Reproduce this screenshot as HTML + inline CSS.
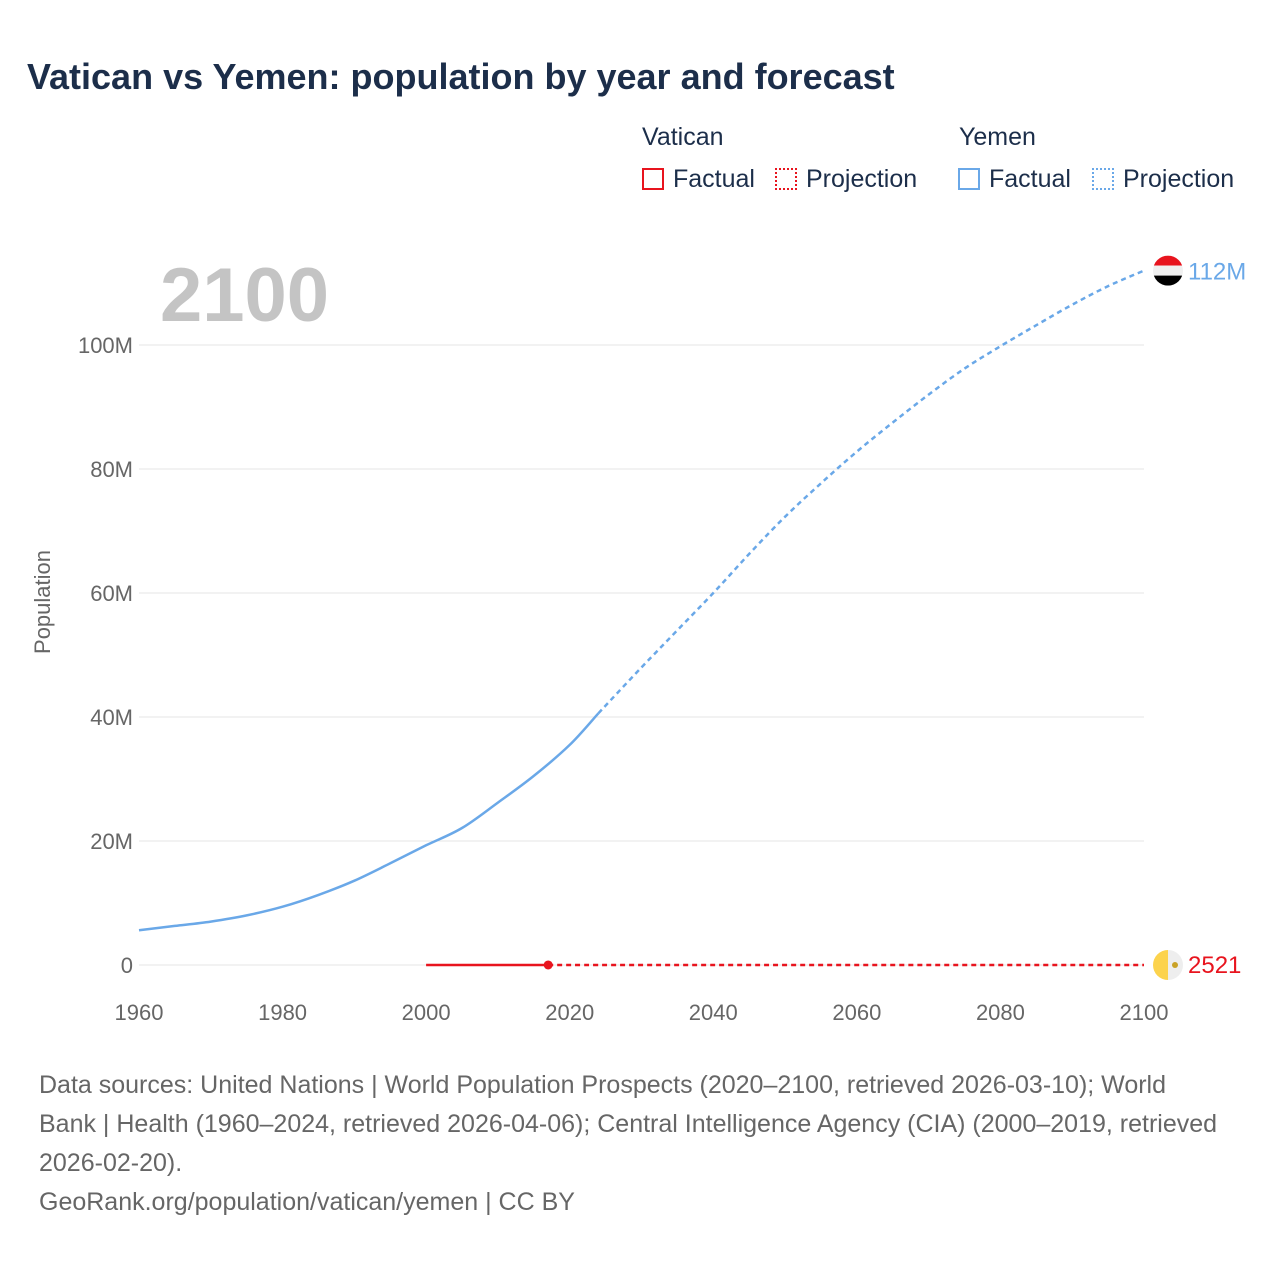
<!DOCTYPE html>
<html><head><meta charset="utf-8"><style>
body{margin:0;background:#fff;font-family:"Liberation Sans",sans-serif;}
#wrap{position:relative;width:1280px;height:1280px;overflow:hidden;}
.t{position:absolute;white-space:nowrap;}
</style></head><body>
<div id="wrap">
<div class="t" style="left:27px;top:56px;font-size:36px;font-weight:bold;color:#1c2e4a;">Vatican vs Yemen: population by year and forecast</div>
<div class="t" style="left:642px;top:123px;font-size:25px;color:#1c2e4a;">Vatican</div>
<div class="t" style="left:959px;top:123px;font-size:25px;color:#1c2e4a;">Yemen</div>
<div class="t" style="left:642px;top:165px;font-size:25px;color:#1c2e4a;"><span style="display:inline-block;width:22px;height:22px;border:2px solid #e8141e;box-sizing:border-box;vertical-align:-3px;margin-right:9px"></span>Factual</div>
<div class="t" style="left:775px;top:165px;font-size:25px;color:#1c2e4a;"><span style="display:inline-block;width:22px;height:22px;border:2px dotted #e8141e;box-sizing:border-box;vertical-align:-3px;margin-right:9px"></span>Projection</div>
<div class="t" style="left:958px;top:165px;font-size:25px;color:#1c2e4a;"><span style="display:inline-block;width:22px;height:22px;border:2px solid #6aa8e8;box-sizing:border-box;vertical-align:-3px;margin-right:9px"></span>Factual</div>
<div class="t" style="left:1092px;top:165px;font-size:25px;color:#1c2e4a;"><span style="display:inline-block;width:22px;height:22px;border:2px dotted #6aa8e8;box-sizing:border-box;vertical-align:-3px;margin-right:9px"></span>Projection</div>
<svg id="chart" width="1280" height="1280" style="position:absolute;left:0;top:0"></svg>
<div class="t" style="left:39px;top:1066px;font-size:25px;line-height:39px;color:#666;white-space:normal;width:1185px;">Data sources: United Nations | World Population Prospects (2020–2100, retrieved 2026-03-10); World Bank | Health (1960–2024, retrieved 2026-04-06); Central Intelligence Agency (CIA) (2000–2019, retrieved 2026-02-20).<br>GeoRank.org/population/vatican/yemen | CC BY</div>
</div>
<script>
const yTicks=[0,20,40,60,80,100];
const yTickLabels=["0","20M","40M","60M","80M","100M"];
const xTicks=[1960,1980,2000,2020,2040,2060,2080,2100];
const yemenFactYears=[1960,1965,1970,1975,1980,1985,1990,1995,2000,2005,2010,2015,2020,2024];
const yemenFactVals=[5.6,6.3,7.0,8.0,9.4,11.3,13.6,16.4,19.3,22.1,26.2,30.5,35.5,40.6];
const yemenProjYears=[2024,2030,2035,2040,2045,2050,2055,2060,2065,2070,2075,2080,2085,2090,2095,2100];
const yemenProjVals=[40.6,48,54,60,66.3,72.3,77.7,82.8,87.5,92,96.2,99.8,103.2,106.5,109.5,112];
const vatFactYears=[2000,2017];
const vatFactVals=[0.0008,0.001];
const vatProjYears=[2017,2100];
const vatProjVals=[0.001,0.0025];
const X=y=>139+(y-1960)*(1005/140);
const Y=v=>965-v*6.2;
const svg=document.getElementById('chart');
const NS='http://www.w3.org/2000/svg';
function mk(t,a){const e=document.createElementNS(NS,t);for(const k in a)e.setAttribute(k,a[k]);svg.appendChild(e);return e;}
let e=mk('text',{x:160,y:321,'font-size':76,'font-weight':'bold',fill:'#c4c4c4','font-family':'Liberation Sans'});e.textContent='2100';


yTicks.forEach((v,i)=>{
 let g=mk('line',{x1:139,x2:1144,y1:Y(v),y2:Y(v),stroke:'#e6e6e6','stroke-width':1});
 
 
 let t=mk('text',{x:133,y:Y(v)+8,'text-anchor':'end','font-size':22,fill:'#666','font-family':'Liberation Sans'});t.textContent=yTickLabels[i];
 
 
});
xTicks.forEach(v=>{
 let t=mk('text',{x:X(v),y:1020,'text-anchor':'middle','font-size':22,fill:'#666','font-family':'Liberation Sans'});t.textContent=v;
 
 
});
e=mk('text',{transform:'translate(50,602) rotate(-90)','text-anchor':'middle','font-size':22,fill:'#666','font-family':'Liberation Sans'});e.textContent='Population';


function path(xs,vs,col,dash,name){
 const P=xs.map((x,i)=>[X(x),Y(vs[i])]);
 let d='M'+P[0][0].toFixed(1)+','+P[0][1].toFixed(1);
 for(let i=0;i<P.length-1;i++){
  const p0=P[Math.max(i-1,0)],p1=P[i],p2=P[i+1],p3=P[Math.min(i+2,P.length-1)];
  const c1=[p1[0]+(p2[0]-p0[0])/6,p1[1]+(p2[1]-p0[1])/6],c2=[p2[0]-(p3[0]-p1[0])/6,p2[1]-(p3[1]-p1[1])/6];
  d+='C'+c1.map(n=>n.toFixed(1))+' '+c2.map(n=>n.toFixed(1))+' '+p2.map(n=>n.toFixed(1));
 }
 const p=mk('path',{d:d,fill:'none',stroke:col,'stroke-width':2.5,'stroke-dasharray':dash||'none','stroke-linejoin':'round'});
 
 
}
path(yemenFactYears,yemenFactVals,'#6aa8e8',null,'yemen-factual-line');
path(yemenProjYears,yemenProjVals,'#6aa8e8','5 4','yemen-projection-line');
path(vatFactYears,vatFactVals,'#e8141e',null,'vatican-factual-line');
path(vatProjYears,vatProjVals,'#e8141e','5 4','vatican-projection-line');
e=mk('circle',{cx:X(vatFactYears[1]),cy:Y(vatFactVals[1]),r:4.5,fill:'#e8141e'});


const yy=Y(yemenProjVals[yemenProjVals.length-1]);
mk('defs',{}).innerHTML='<clipPath id="c1"><circle cx="1168" cy="'+yy+'" r="15"/></clipPath><clipPath id="c2"><circle cx="1168" cy="'+Y(0)+'" r="15"/></clipPath>';
let fg=mk('g',{'clip-path':'url(#c1)'});


fg.innerHTML='<rect x="1153" y="'+(yy-15)+'" width="30" height="10" fill="#e8141e"/><rect x="1153" y="'+(yy-5)+'" width="30" height="10" fill="#f0f0f0"/><rect x="1153" y="'+(yy+5)+'" width="30" height="10" fill="#000"/>';
e=mk('text',{x:1188,y:yy+9,'font-size':24,fill:'#6aa8e8','font-family':'Liberation Sans'});e.textContent='112M';


const vy=Y(0);
fg=mk('g',{'clip-path':'url(#c2)'});


fg.innerHTML='<rect x="1153" y="'+(vy-15)+'" width="15" height="30" fill="#fcd34d"/><rect x="1168" y="'+(vy-15)+'" width="15" height="30" fill="#eee"/><circle cx="1175" cy="'+vy+'" r="3" fill="#c9a227"/>';
e=mk('text',{x:1188,y:vy+8,'font-size':24,fill:'#e8141e','font-family':'Liberation Sans'});e.textContent='2521';


</script>
</body></html>
